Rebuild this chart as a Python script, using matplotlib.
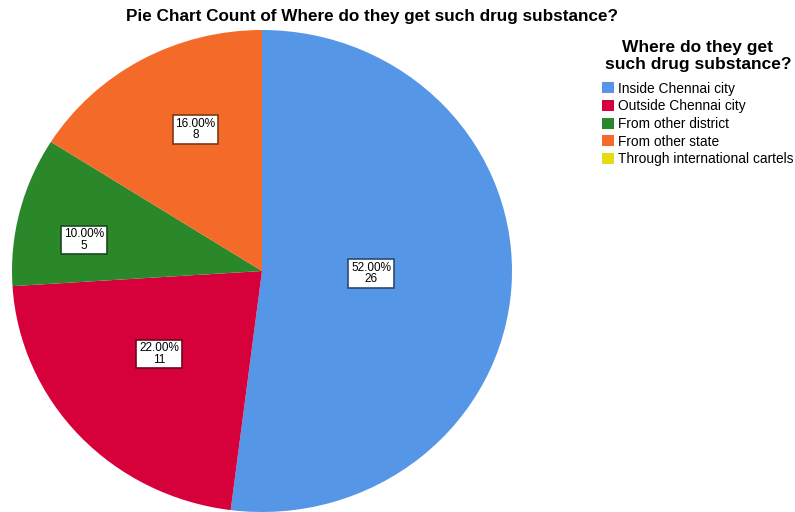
import matplotlib.pyplot as plt
from matplotlib.patches import Patch

plt.rcParams['font.family'] = ['Liberation Sans', 'DejaVu Sans']

# data
categories = ["Inside Chennai city", "Outside Chennai city", "From other district",
              "From other state", "Through international cartels"]
counts = [26, 11, 5, 8, 0]
percents = [52.0, 22.0, 10.0, 16.0, 0.0]
colors = ["#5596E6", "#D6003A", "#2A882A", "#F46A28", "#E4DC10"]
edge_colors = ["#2E4A70", "#6A0A20", "#1C4A1C", "#7A3A18", "#777000"]
# label box centres (pie data coords)
label_pos = [(0.436, -0.010), (-0.412, -0.344), (-0.712, 0.129), (-0.266, 0.587)]

fig = plt.figure(figsize=(7.95, 5.12), dpi=100)
ax = fig.add_axes([12/795, 0, 500/795, 482/512])

shown = [c for c in counts if c > 0]
wedges, _ = ax.pie(shown, colors=colors[:len(shown)], startangle=90,
                   counterclock=False, radius=1,
                   wedgeprops=dict(linewidth=0))
ax.set_aspect('auto')
ax.set_xlim(-1, 1)
ax.set_ylim(-1, 1)
ax.axis('off')

for i, (x, y) in enumerate(label_pos):
    ax.text(x, y, f"{percents[i]:.2f}%\n{counts[i]}", ha='center', va='center',
            fontsize=8.5, linespacing=0.95, color='black',
            bbox=dict(boxstyle='square,pad=0.22', facecolor='white',
                      edgecolor=edge_colors[i], linewidth=1.2))

fig.text(372/795, 1 - 17/512, "Pie Chart Count of Where do they get such drug substance?",
         ha='center', va='center', fontsize=12.3, fontweight='bold')

# legend title drawn separately so the gap to the entries can match
fig.text(698/795, 1 - 56/512, "Where do they get\nsuch drug substance?",
         ha='center', va='center', multialignment='center',
         fontsize=12.5, fontweight='bold', linespacing=1.1)

handles = [Patch(facecolor=c, edgecolor='none') for c in colors]
leg = fig.legend(handles, categories, loc='upper left',
                 bbox_to_anchor=(602/795, 1 - 81.5/512),
                 frameon=False, fontsize=9.9,
                 handlelength=0.85, handleheight=0.85, handletextpad=0.35,
                 labelspacing=0.27, borderpad=0, borderaxespad=0)

fig.savefig("out.png", dpi=100)
